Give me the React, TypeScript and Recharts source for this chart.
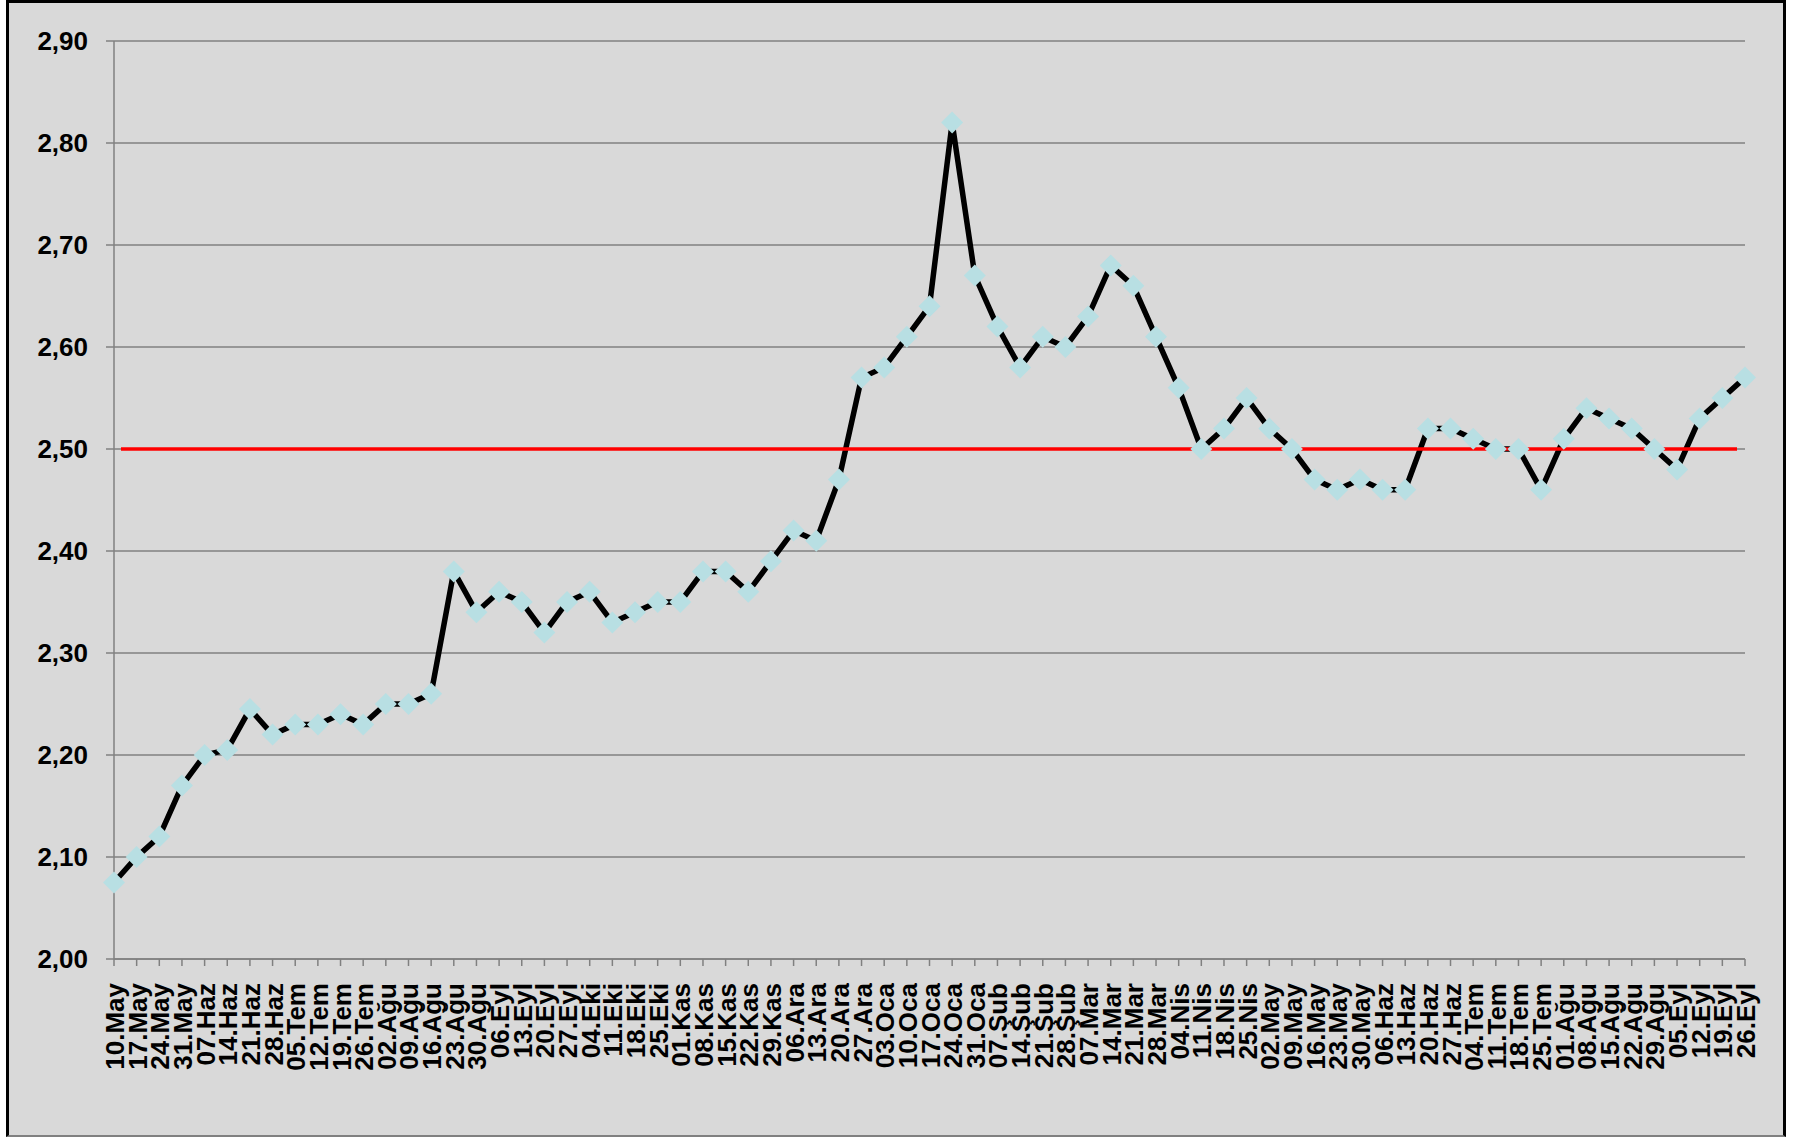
import React from "react";
import { LineChart, Line, XAxis, YAxis, CartesianGrid, ReferenceLine } from "recharts";

const labels = [
  "10.May", "17.May", "24.May", "31.May", "07.Haz", "14.Haz", "21.Haz", "28.Haz",
  "05.Tem", "12.Tem", "19.Tem", "26.Tem", "02.Ağu", "09.Ağu", "16.Ağu", "23.Ağu", "30.Ağu",
  "06.Eyl", "13.Eyl", "20.Eyl", "27.Eyl", "04.Eki", "11.Eki", "18.Eki", "25.Eki",
  "01.Kas", "08.Kas", "15.Kas", "22.Kas", "29.Kas", "06.Ara", "13.Ara", "20.Ara", "27.Ara",
  "03.Oca", "10.Oca", "17.Oca", "24.Oca", "31.Oca", "07.Şub", "14.Şub", "21.Şub", "28.Şub",
  "07.Mar", "14.Mar", "21.Mar", "28.Mar", "04.Nis", "11.Nis", "18.Nis", "25.Nis",
  "02.May", "09.May", "16.May", "23.May", "30.May", "06.Haz", "13.Haz", "20.Haz", "27.Haz",
  "04.Tem", "11.Tem", "18.Tem", "25.Tem", "01.Ağu", "08.Ağu", "15.Ağu", "22.Ağu", "29.Ağu",
  "05.Eyl", "12.Eyl", "19.Eyl", "26.Eyl",
];

const prices = [
  2.075, 2.10, 2.12, 2.17, 2.20, 2.205, 2.245, 2.22,
  2.23, 2.23, 2.24, 2.23, 2.25, 2.25, 2.26, 2.38, 2.34,
  2.36, 2.35, 2.32, 2.35, 2.36, 2.33, 2.34, 2.35,
  2.35, 2.38, 2.38, 2.36, 2.39, 2.42, 2.41, 2.47, 2.57,
  2.58, 2.61, 2.64, 2.82, 2.67, 2.62, 2.58, 2.61, 2.60,
  2.63, 2.68, 2.66, 2.61, 2.56, 2.50, 2.52, 2.55,
  2.52, 2.50, 2.47, 2.46, 2.47, 2.46, 2.46, 2.52, 2.52,
  2.51, 2.50, 2.50, 2.46, 2.51, 2.54, 2.53, 2.52, 2.50,
  2.48, 2.53, 2.55, 2.57,
];

const yTicks = [2.0, 2.1, 2.2, 2.3, 2.4, 2.5, 2.6, 2.7, 2.8, 2.9];
const threshold = 2.5;

const data = labels.map((label, i) => ({ label, price: prices[i] }));

const FONT = "'Liberation Sans', Arial, sans-serif";

function DateTick(props: any) {
  const { x, y, payload } = props;
  const tx = x + 1;
  return (
    <text
      x={tx}
      y={y}
      transform={`rotate(-90, ${tx}, ${y})`}
      textAnchor="end"
      dominantBaseline="central"
      fontSize={26}
      fontWeight="bold"
      fontFamily={FONT}
      fill="#000"
    >
      {payload.value}
    </text>
  );
}

function Diamond(props: any) {
  const { cx, cy, index } = props;
  if (cx == null || cy == null) return null;
  const r = 11;
  return (
    <path
      key={`d-${index}`}
      d={`M${cx} ${cy - r} L${cx + r} ${cy} L${cx} ${cy + r} L${cx - r} ${cy} Z`}
      fill="#b8dfe3"
    />
  );
}

// red target line is drawn a little inside the plot edges, like the original
function TargetLine(p: any) {
  return <line x1={p.x1 + 7} y1={p.y1} x2={p.x2 - 8} y2={p.y2} stroke="#ff0000" strokeWidth={3.5} />;
}

export default function App() {
  return (
    <div style={{ position: "absolute", left: 0, top: 0, width: 1795, height: 1137 }}>
      <div
        style={{
          position: "absolute",
          left: 6,
          top: 0,
          width: 1780,
          height: 1137,
          boxSizing: "border-box",
          background: "#d9d9d9",
          borderLeft: "3px solid #000",
          borderTop: "3px solid #000",
          borderRight: "3px solid #000",
          borderBottom: "2px solid #808080",
        }}
      />
      <div style={{ position: "absolute", left: 0, top: 0 }}>
        <LineChart width={1795} height={1137} data={data} margin={{ top: 41, right: 50, left: 0, bottom: 0 }}>
          <CartesianGrid vertical={false} stroke="#808080" strokeWidth={1.4} />
          <XAxis
            dataKey="label"
            interval={0}
            height={178}
            tickSize={7}
            tickMargin={17}
            tick={<DateTick />}
            axisLine={{ stroke: "#808080", strokeWidth: 1.5 }}
            tickLine={{ stroke: "#808080", strokeWidth: 1.5 }}
          />
          <YAxis
            width={114}
            domain={[2, 2.9]}
            ticks={yTicks}
            interval={0}
            tickSize={8}
            tickMargin={18}
            tickFormatter={(v: number) => v.toFixed(2).replace(".", ",")}
            tick={{ fontSize: 26, fontWeight: "bold", fill: "#000", fontFamily: FONT }}
            axisLine={{ stroke: "#808080", strokeWidth: 1.5 }}
            tickLine={{ stroke: "#808080", strokeWidth: 1.5 }}
          />
          <Line
            type="linear"
            dataKey="price"
            stroke="#000"
            strokeWidth={5.5}
            dot={Diamond}
            activeDot={false}
            isAnimationActive={false}
          />
          <ReferenceLine y={threshold} stroke="#ff0000" strokeWidth={3.5} shape={TargetLine} />
        </LineChart>
      </div>
    </div>
  );
}
